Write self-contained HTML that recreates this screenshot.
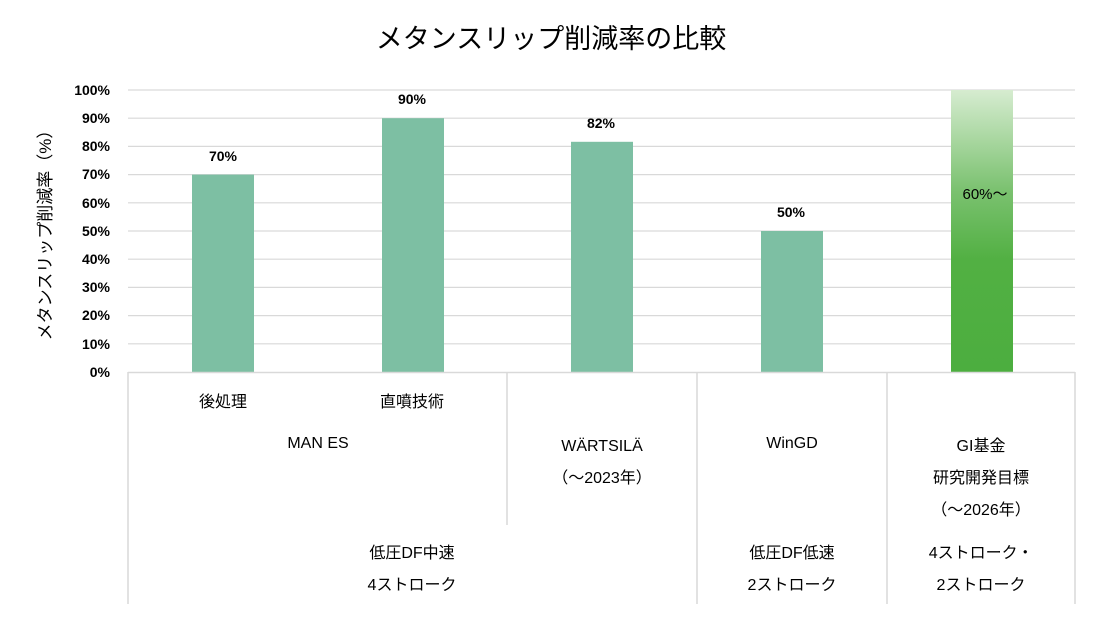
<!DOCTYPE html>
<html><head><meta charset="utf-8"><style>
body{margin:0;background:#fff;}
svg text{font-family:"Liberation Sans","Noto Sans CJK JP",sans-serif;}
</style></head><body>
<svg width="1100" height="614" xmlns="http://www.w3.org/2000/svg">
<defs><linearGradient id="g" x1="0" y1="0" x2="0" y2="1">
<stop offset="0" stop-color="#d6ecd0"/><stop offset="0.35" stop-color="#7cc271"/><stop offset="0.6" stop-color="#52b043"/><stop offset="1" stop-color="#4cae3f"/></linearGradient></defs>
<rect width="1100" height="614" fill="#fff"/>
<text x="551" y="48" font-size="27" text-anchor="middle" fill="#000">メタンスリップ削減率の比較</text>
<g stroke="#d9d9d9" stroke-width="1.2">
<line x1="128" x2="1075" y1="90" y2="90"/><line x1="128" x2="1075" y1="118.2" y2="118.2"/>
<line x1="128" x2="1075" y1="146.4" y2="146.4"/><line x1="128" x2="1075" y1="174.6" y2="174.6"/>
<line x1="128" x2="1075" y1="202.8" y2="202.8"/><line x1="128" x2="1075" y1="231" y2="231"/>
<line x1="128" x2="1075" y1="259.2" y2="259.2"/><line x1="128" x2="1075" y1="287.4" y2="287.4"/>
<line x1="128" x2="1075" y1="315.6" y2="315.6"/><line x1="128" x2="1075" y1="343.8" y2="343.8"/>
</g>
<g fill="#7dbfa3">
<rect x="192" y="174.6" width="62" height="197.4"/>
<rect x="382" y="118.2" width="62" height="253.8"/>
<rect x="571" y="141.8" width="62" height="230.2"/>
<rect x="761" y="231" width="62" height="141"/>
</g>
<rect x="951" y="90" width="62" height="282" fill="url(#g)"/>
<g stroke="#d9d9d9" stroke-width="1.5">
<line x1="128" x2="1075" y1="372.5" y2="372.5"/>
<line x1="128" x2="128" y1="372" y2="604"/>
<line x1="507" x2="507" y1="372" y2="525"/>
<line x1="697" x2="697" y1="372" y2="604"/>
<line x1="887" x2="887" y1="372" y2="604"/>
<line x1="1075" x2="1075" y1="372" y2="604"/>
</g>
<g font-size="14" font-weight="bold" text-anchor="middle" fill="#000">
<text x="223" y="161">70%</text><text x="412" y="104">90%</text>
<text x="601" y="128">82%</text><text x="791" y="217">50%</text>
<text x="985" y="199" font-weight="normal" font-size="15">60%～</text>
</g>
<g font-size="14" text-anchor="end" fill="#000" font-weight="bold">
<text x="110" y="95">100%</text><text x="110" y="123">90%</text><text x="110" y="151">80%</text>
<text x="110" y="179">70%</text><text x="110" y="208">60%</text><text x="110" y="236">50%</text>
<text x="110" y="264">40%</text><text x="110" y="292">30%</text><text x="110" y="320">20%</text>
<text x="110" y="349">10%</text><text x="110" y="377">0%</text>
</g>
<text transform="translate(51,231) rotate(-90)" font-size="17" text-anchor="middle" fill="#000">メタンスリップ削減率（%）</text>
<g font-size="16" text-anchor="middle" fill="#000">
<text x="223" y="407">後処理</text><text x="412" y="407">直噴技術</text>
<text x="318" y="448">MAN ES</text>
<text x="602" y="451">WÄRTSILÄ</text><text x="602" y="483">（～2023年）</text>
<text x="792" y="448">WinGD</text>
<text x="981" y="451">GI基金</text><text x="981" y="483">研究開発目標</text><text x="981" y="515">（～2026年）</text>
<text x="412" y="558">低圧DF中速</text><text x="412" y="590">4ストローク</text>
<text x="792" y="558">低圧DF低速</text><text x="792" y="590">2ストローク</text>
<text x="981" y="558">4ストローク・</text><text x="981" y="590">2ストローク</text>
</g>
</svg>
</body></html>
